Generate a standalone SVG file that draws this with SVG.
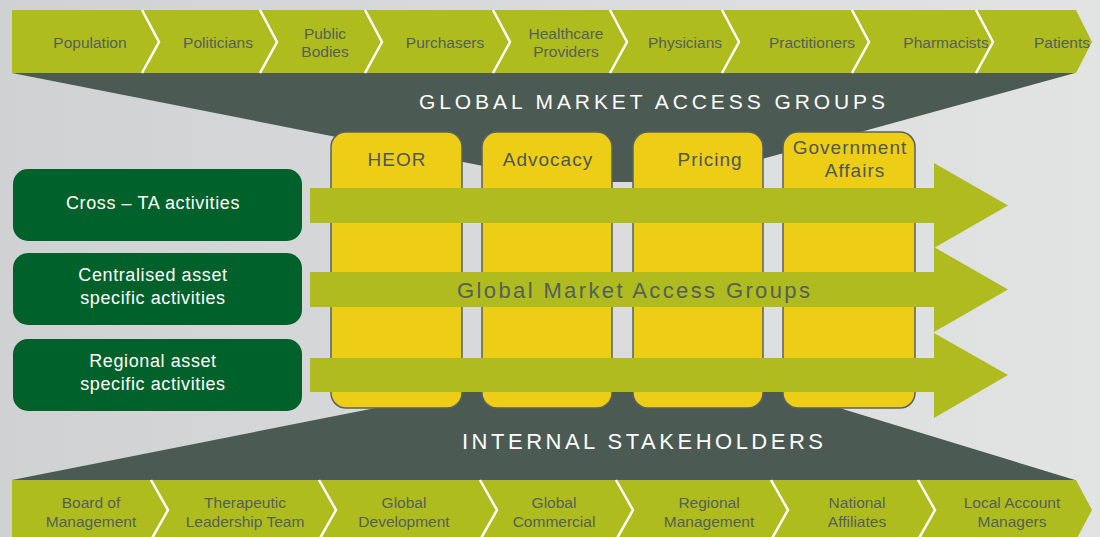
<svg xmlns="http://www.w3.org/2000/svg" width="1100" height="537" viewBox="0 0 1100 537">
  <defs>
    <linearGradient id="bg" x1="0" y1="0" x2="1" y2="0">
      <stop offset="0" stop-color="#cfd1d3"/>
      <stop offset="1" stop-color="#e2e4e4"/>
    </linearGradient>
    <style>
      .bar { fill: #afbc1e; }
      .sep { fill: none; stroke: #ffffff; stroke-width: 2.5; }
      .band { fill: #4b5a53; }
      .col { fill: #eecd17; stroke: #5a6260; stroke-width: 1.5; }
      .arrow { fill: #afbb1f; }
      .act { fill: #00612a; }
      .lbl { font-family: "Liberation Sans", Arial, sans-serif; font-size: 15.5px; fill: #55605a; text-anchor: middle; }
      .head { font-family: "Liberation Sans", Arial, sans-serif; fill: #ffffff; }
      .colt { font-family: "Liberation Sans", Arial, sans-serif; font-size: 19px; fill: #4f5856; text-anchor: middle; letter-spacing: 1px; }
      .actt { font-family: "Liberation Sans", Arial, sans-serif; font-size: 18px; fill: #ffffff; text-anchor: middle; letter-spacing: 0.6px; }
      .mid { font-family: "Liberation Sans", Arial, sans-serif; font-size: 22px; fill: #55605a; }
    </style>
  </defs>

  <rect width="1100" height="537" fill="url(#bg)"/>

  <!-- dark funnels behind the columns -->
  <polygon class="band" points="12,73 1075,73 678,182 565,182"/>
  <polygon class="band" points="12,480 1075,480 764,385 492,385"/>

  <!-- external stakeholder chain -->
  <g id="external-chain">
    <polygon class="bar" points="12,10 1076,10 1092,42 1076,73 12,73"/>
    <polyline class="sep" points="142,10 159,42 142,73"/>
    <polyline class="sep" points="260,10 277,42 260,73"/>
    <polyline class="sep" points="365,10 382,42 365,73"/>
    <polyline class="sep" points="493,10 510,42 493,73"/>
    <polyline class="sep" points="610,10 627,42 610,73"/>
    <polyline class="sep" points="722,10 739,42 722,73"/>
    <polyline class="sep" points="852,10 869,42 852,73"/>
    <polyline class="sep" points="976,10 993,42 976,73"/>
    <text class="lbl" x="90" y="48">Population</text>
    <text class="lbl" x="218" y="48">Politicians</text>
    <text class="lbl" x="325" y="39">Public</text>
    <text class="lbl" x="325" y="57">Bodies</text>
    <text class="lbl" x="445" y="48">Purchasers</text>
    <text class="lbl" x="566" y="39">Healthcare</text>
    <text class="lbl" x="566" y="57">Providers</text>
    <text class="lbl" x="685" y="48">Physicians</text>
    <text class="lbl" x="812" y="48">Practitioners</text>
    <text class="lbl" x="946" y="48">Pharmacists</text>
    <text class="lbl" x="1062" y="48">Patients</text>
  </g>

  <!-- internal stakeholder chain -->
  <g id="internal-chain">
    <polygon class="bar" points="12,480 1076,480 1092,510 1076,540 12,540"/>
    <polyline class="sep" points="151,480 168,510 151,540"/>
    <polyline class="sep" points="319,480 336,510 319,540"/>
    <polyline class="sep" points="480,480 497,510 480,540"/>
    <polyline class="sep" points="616,480 633,510 616,540"/>
    <polyline class="sep" points="771,480 788,510 771,540"/>
    <polyline class="sep" points="918,480 935,510 918,540"/>
    <text class="lbl" x="91" y="508">Board of</text>
    <text class="lbl" x="91" y="527">Management</text>
    <text class="lbl" x="245" y="508">Therapeutic</text>
    <text class="lbl" x="245" y="527">Leadership Team</text>
    <text class="lbl" x="404" y="508">Global</text>
    <text class="lbl" x="404" y="527">Development</text>
    <text class="lbl" x="554" y="508">Global</text>
    <text class="lbl" x="554" y="527">Commercial</text>
    <text class="lbl" x="709" y="508">Regional</text>
    <text class="lbl" x="709" y="527">Management</text>
    <text class="lbl" x="857" y="508">National</text>
    <text class="lbl" x="857" y="527">Affiliates</text>
    <text class="lbl" x="1012" y="508">Local Account</text>
    <text class="lbl" x="1012" y="527">Managers</text>
  </g>

  <!-- section headings -->
  <text class="head" x="419" y="109" font-size="21" textLength="466" lengthAdjust="spacing">GLOBAL MARKET ACCESS GROUPS</text>
  <text class="head" x="462" y="449" font-size="22" textLength="361" lengthAdjust="spacing">INTERNAL STAKEHOLDERS</text>

  <!-- market access group columns -->
  <g id="col-heor">
    <rect class="col" x="331" y="132" width="131" height="276" rx="15"/>
    <text class="colt" x="397" y="166">HEOR</text>
  </g>
  <g id="col-advocacy">
    <rect class="col" x="482" y="132" width="130" height="276" rx="15"/>
    <text class="colt" x="548" y="166">Advocacy</text>
  </g>
  <g id="col-pricing">
    <rect class="col" x="633" y="132" width="130" height="276" rx="15"/>
    <text class="colt" x="710" y="166">Pricing</text>
  </g>
  <g id="col-government">
    <rect class="col" x="783" y="132" width="132" height="276" rx="15"/>
    <text class="colt" x="850" y="154">Government</text>
    <text class="colt" x="855" y="177">Affairs</text>
  </g>

  <!-- activity flows across the columns -->
  <g id="connectors">
    <polygon class="arrow" points="310,188 934,188 934,163 1008,205.5 934,248 934,223 310,223"/>
    <polygon class="arrow" points="310,272 934,272 934,247 1008,289.5 934,332 934,307 310,307"/>
    <polygon class="arrow" points="310,358 934,358 934,333 1008,375 934,418 934,392 310,392"/>
  </g>
  <text class="mid" x="457" y="298" textLength="353" lengthAdjust="spacing">Global Market Access Groups</text>

  <!-- activity types -->
  <g id="act-cross-ta">
    <rect class="act" x="13" y="169" width="289" height="72" rx="15"/>
    <text class="actt" x="153" y="209">Cross – TA activities</text>
  </g>
  <g id="act-centralised">
    <rect class="act" x="13" y="253" width="289" height="72" rx="15"/>
    <text class="actt" x="153" y="281">Centralised asset</text>
    <text class="actt" x="153" y="304">specific activities</text>
  </g>
  <g id="act-regional">
    <rect class="act" x="13" y="339" width="289" height="72" rx="15"/>
    <text class="actt" x="153" y="367">Regional asset</text>
    <text class="actt" x="153" y="390">specific activities</text>
  </g>
</svg>
